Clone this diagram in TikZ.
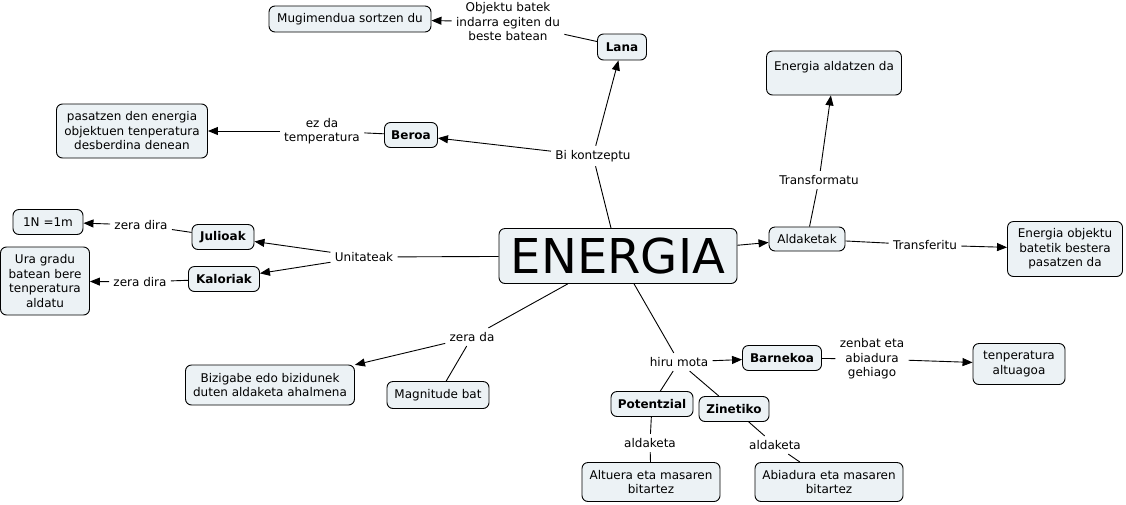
\documentclass[tikz,border=0pt]{standalone}
\usepackage{fontspec}
\setmainfont{DejaVu Sans}
\usetikzlibrary{arrows.meta}

\definecolor{cmapfill}{RGB}{236,242,245}

\tikzset{
  concept/.style={draw, rounded corners=6pt, fill=cmapfill, align=center,
    inner sep=2pt, font=\fontsize{12}{14.5}\selectfont},
  keyconcept/.style={concept, font=\fontsize{12}{14.5}\selectfont\bfseries},
  linkword/.style={align=center, inner sep=4pt, font=\fontsize{12}{14.5}\selectfont},
  tip/.style={-{Triangle[length=10pt,width=8pt]}},
}

\begin{document}
\begin{tikzpicture}[x=1pt, y=-1pt, line width=0.9pt]
    \useasboundingbox (0,0) rectangle (1126,504);

    % Main concept
    \node[concept, minimum width=238, minimum height=55, inner sep=0pt,
      font=\fontsize{48}{50}\selectfont] (energia) at (618,256) {ENERGIA};

    % Top branch
    \node[keyconcept, minimum width=49, minimum height=26] (lana) at (622,47) {Lana};
    \node[keyconcept, minimum width=53, minimum height=25] (beroa) at (411,135) {Beroa};
    \node[concept, minimum width=162, minimum height=26] (mugi) at (350,19) {Mugimendua sortzen du};
    \node[concept, minimum width=151, minimum height=54] (pasatzen) at (132,131)
      {pasatzen den energia\\objektuen tenperatura\\desberdina denean};
    \node[linkword] (bikon) at (593,156) {Bi kontzeptu};
    \node[linkword] (objektu) at (508,22)
      {Objektu batek\\indarra egiten du\\beste batean};
    \node[linkword] (ezda) at (322,131) {ez da\\temperatura};

    % Right branch
    \node[concept, minimum width=76, minimum height=24] (aldaketak) at (807,239) {Aldaketak};
    \node[concept, minimum width=135, minimum height=44] (aldatzen) at (834,73)
      {Energia aldatzen da\\\mbox{}};
    \node[concept, minimum width=115, minimum height=55] (transf) at (1065,249)
      {Energia objektu\\batetik bestera\\pasatzen da};
    \node[linkword] (transformatu) at (819,180) {Transformatu};
    \node[linkword] (transferitu) at (925,245) {Transferitu};

    % Left branch
    \node[linkword] (unitateak) at (364,257) {Unitateak};
    \node[keyconcept, minimum width=62, minimum height=25] (julioak) at (223,237) {Julioak};
    \node[keyconcept, minimum width=71, minimum height=25] (kaloriak) at (224,279) {Kaloriak};
    \node[linkword] (zeradira1) at (141,225) {zera dira};
    \node[linkword] (zeradira2) at (140,282) {zera dira};
    \node[concept, minimum width=70, minimum height=25] (newton) at (48,222) {1N =1m};
    \node[concept, minimum width=89, minimum height=68] (ura) at (45,281)
      {Ura gradu\\batean bere\\tenperatura\\aldatu};

    % Bottom left branch
    \node[linkword] (zerada) at (472,337) {zera da};
    \node[concept, minimum width=169, minimum height=40] (bizigabe) at (270,385)
      {Bizigabe edo bizidunek\\duten aldaketa ahalmena};
    \node[concept, minimum width=102, minimum height=27] (magnitude) at (438,395) {Magnitude bat};

    % Bottom right branch
    \node[linkword] (hiru) at (679,362) {hiru mota};
    \node[keyconcept, minimum width=79, minimum height=25] (barnekoa) at (782,358) {Barnekoa};
    \node[linkword] (zenbat) at (872,359) {zenbat eta\\abiadura\\gehiago};
    \node[concept, minimum width=92, minimum height=41] (altuagoa) at (1019,364)
      {tenperatura\\altuagoa};
    \node[keyconcept, minimum width=82, minimum height=25] (potentzial) at (652,404) {Potentzial};
    \node[keyconcept, minimum width=70, minimum height=25] (zinetiko) at (734,409) {Zinetiko};
    \node[linkword] (aldaketa1) at (650,443) {aldaketa};
    \node[linkword] (aldaketa2) at (775,445) {aldaketa};
    \node[concept, minimum width=138, minimum height=39] (altuera) at (651,482)
      {Altuera eta masaren\\bitartez};
    \node[concept, minimum width=148, minimum height=39] (abiadura) at (829,482)
      {Abiadura eta masaren\\bitartez};

    % Connectors
    \draw (energia) -- (bikon);
    \draw[tip] (bikon) -- (lana);
    \draw[tip] (bikon) -- (beroa);
    \draw (lana) -- (objektu);
    \draw[tip] (objektu) -- (mugi);
    \draw (beroa) -- (ezda);
    \draw[tip] (ezda) -- (pasatzen);

    \draw[tip] (energia) -- (aldaketak);
    \draw (aldaketak) -- (transformatu);
    \draw[tip] (transformatu) -- (aldatzen);
    \draw (aldaketak) -- (transferitu);
    \draw[tip] (transferitu) -- (transf);

    \draw (energia) -- (unitateak);
    \draw[tip] (unitateak) -- (julioak);
    \draw[tip] (unitateak) -- (kaloriak);
    \draw (julioak) -- (zeradira1);
    \draw[tip] (zeradira1) -- (newton);
    \draw (kaloriak) -- (zeradira2);
    \draw[tip] (zeradira2) -- (ura);

    \draw (energia) -- (zerada);
    \draw[tip] (zerada) -- (bizigabe);
    \draw (zerada) -- (magnitude);

    \draw (energia) -- (hiru);
    \draw[tip] (hiru) -- (barnekoa);
    \draw (hiru) -- (potentzial);
    \draw (hiru) -- (zinetiko);
    \draw (barnekoa) -- (zenbat);
    \draw[tip] (zenbat) -- (altuagoa);
    \draw (potentzial) -- (aldaketa1);
    \draw (aldaketa1) -- (altuera);
    \draw (zinetiko) -- (aldaketa2);
    \draw (aldaketa2) -- (abiadura);
\end{tikzpicture}
\end{document}
